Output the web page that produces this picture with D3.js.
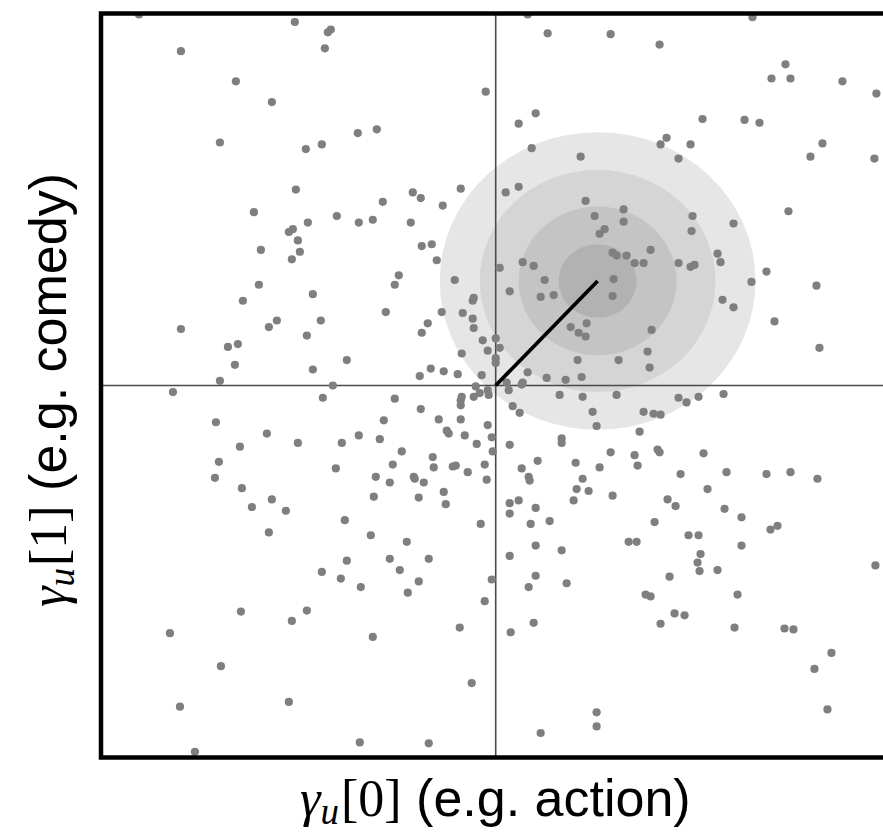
<!DOCTYPE html>
<html>
<head>
<meta charset="utf-8">
<script src="https://cdn.jsdelivr.net/npm/d3@7"></script>
<style>
  body { margin: 0; background: #fff; }
</style>
</head>
<body>
<svg id="svg"></svg>
<script>
// user factor scatter (x = gamma_u[0], y = gamma_u[1]), units
const usersX = [
  -357,-201,-165,-168,-315,-171,-260,-224,-276,-138,-190,-174,-200,-242,-159,-188,-137,-203,-207,-198,-235,-196,
  32,52,115,-10,40,23,-119,36,85,-83,-75,-35,-113,-53,10,23,-85,90,128,99,128,109,104,-74,-64,117,-123,
  257,164,290,276,295,347,381,207,249,264,171,165,195,183,327,315,379,293,197,196,238,155,222,
  -204,-237,-183,-253,-315,-227,-219,-175,-189,-268,-258,-261,-183,-149,-276,-323,-163,-173,-280,-229,-256,-198,-154,-137,-277,-281,-160,-254,-224,
  -59,27,38,4,121,131,-97,-101,-41,49,118,14,45,58,117,-22,-23,-110,-54,-33,-23,-22,-68,-74,75,83,90,91,-13,0,4,-8,-34,0,0,82,123,
  -65,-52,-38,-76,-14,32,51,70,86,27,26,11,-20,13,-8,-16,-22,-7,-34,-35,-35,-101,64,87,121,17,24,97,101,-75,-112,-57,-35,-8,-49,-47,-31,-4,
  -116,-19,14,66,66,-94,-3,-63,115,-103,-62,-43,-40,-11,42,80,104,-120,-106,-82,-81,-72,-28,-9,26,33,34,87,81,93,-122,-77,-52,-50,14,23,78,117,
  139,148,183,195,199,225,256,271,321,227,238,279,156,152,154,324,183,191,203,228,148,158,165,144,139,142,162,164,208,185,231,271,295,322,212,172,
  -244,-210,-151,-227,-149,-174,-155,-135,-255,-189,-204,-326,-275,-316,-207,-136,-301,
  40,14,-15,35,54,-125,-89,-106,-67,-96,-77,-88,-4,-11,40,66,14,40,33,71,-36,-123,38,15,-24,101,101,45,-67,
  180,229,246,159,275,282,133,141,193,203,246,205,202,204,222,174,380,150,155,242,179,189,165,239,289,298,336,319,332
];
const usersY = [
  394,386,378,375,355,358,323,301,258,268,251,256,208,184,180,173,173,166,163,154,144,142,
  394,374,373,312,289,278,272,252,243,205,199,209,195,191,205,211,173,196,187,180,174,166,161,148,150,141,176,
  391,362,341,326,326,323,310,283,282,279,263,256,256,241,257,243,241,185,180,164,172,144,140,
  134,107,97,90,60,62,69,69,53,41,44,22,17,27,5,-7,0,-13,-39,-51,-65,-61,-61,-53,-81,-98,-88,-109,-121,
  133,131,127,125,138,138,117,107,112,112,113,100,94,96,95,93,90,78,78,77,71,61,66,56,62,56,52,66,48,50,40,37,34,29,24,27,27,
  18,15,12,10,11,14,8,6,9,3,1,3,-1,-5,-5,-8,-12,-10,-12,-16,-21,-14,-10,-12,-10,-22,-29,-28,-43,-25,-37,-36,-36,-42,-48,-51,-53,-55,
  -57,-62,-63,-56,-61,-70,-70,-76,-71,-84,-87,-86,-85,-84,-80,-82,-87,-97,-103,-97,-99,-103,-92,-100,-88,-97,-101,-99,-110,-112,-118,-119,-113,-126,-125,-122,-122,-117,
  130,130,130,126,128,131,110,121,106,91,83,68,59,36,19,40,-13,-18,-12,-9,-28,-30,-31,-49,-74,-85,-68,-71,-72,-94,-92,-94,-92,-99,-110,-121,
  -129,-133,-143,-156,-186,-198,-205,-214,-240,-239,-250,-263,-298,-341,-336,-379,-389,
  -130,-136,-147,-147,-144,-159,-166,-184,-184,-196,-208,-220,-206,-229,-170,-175,-181,-202,-214,-210,-257,-267,-252,-262,-316,-347,-362,-369,-380,
  -128,-131,-140,-145,-153,-149,-166,-166,-159,-159,-170,-179,-188,-197,-196,-203,-191,-222,-224,-222,-242,-244,-253,-257,-258,-259,-284,-301,-344
];

// the highlighted user: mean and the radii of the shaded rings
const userMean = [102, 111];
const ringRadii = [158, 118, 79, 39];
const ringFills = ['#e6e6e6', '#d5d5d5', '#c4c4c4', '#b2b2b2'];

const axisLimit = 395;

const width = 883;
const height = 832;
const frame = { left: 101, right: 890.4, top: 13.5, bottom: 757.5 };

const svg = d3.select('#svg')
  .attr('width', width)
  .attr('height', height);

// SCALES
const xScale = d3.scaleLinear()
  .domain([-axisLimit, axisLimit])
  .range([frame.left, frame.right]);

const yScale = d3.scaleLinear()
  .domain([-axisLimit, axisLimit])
  .range([frame.bottom, frame.top]);

svg.append('clipPath')
  .attr('id', 'plot-clip')
  .append('rect')
  .attr('x', frame.left)
  .attr('y', frame.top)
  .attr('width', frame.right - frame.left)
  .attr('height', frame.bottom - frame.top);

const plot = svg.append('g').attr('clip-path', 'url(#plot-clip)');

// RINGS (circles in data space, so ellipses on screen)
plot.selectAll('.ring')
  .data(ringRadii)
  .enter()
  .append('ellipse')
  .attr('class', 'ring')
  .attr('cx', xScale(userMean[0]))
  .attr('cy', yScale(userMean[1]))
  .attr('rx', r => xScale(r) - xScale(0))
  .attr('ry', r => yScale(0) - yScale(r))
  .attr('fill', (r, i) => ringFills[i]);

// ZERO LINES
plot.append('line')
  .attr('x1', xScale(0)).attr('x2', xScale(0))
  .attr('y1', frame.top).attr('y2', frame.bottom)
  .attr('stroke', '#4a4a4a')
  .attr('stroke-width', 1.6);

plot.append('line')
  .attr('x1', frame.left).attr('x2', frame.right)
  .attr('y1', yScale(0)).attr('y2', yScale(0))
  .attr('stroke', '#4a4a4a')
  .attr('stroke-width', 1.6);

// POINTS
plot.selectAll('.user')
  .data(d3.range(usersX.length))
  .enter()
  .append('circle')
  .attr('class', 'user')
  .attr('cx', i => xScale(usersX[i]))
  .attr('cy', i => yScale(usersY[i]))
  .attr('r', 4.1)
  .attr('fill', '#7f7f7f');

// vector to the mean
plot.append('line')
  .attr('x1', xScale(0))
  .attr('y1', yScale(0))
  .attr('x2', xScale(userMean[0]))
  .attr('y2', yScale(userMean[1]))
  .attr('stroke', '#000')
  .attr('stroke-width', 3.8);

// FRAME
svg.append('rect')
  .attr('x', frame.left)
  .attr('y', frame.top)
  .attr('width', frame.right - frame.left)
  .attr('height', frame.bottom - frame.top)
  .attr('fill', 'none')
  .attr('stroke', '#000')
  .attr('stroke-width', 4.5);

// AXIS LABELS
function axisLabel(g, index, genre) {
  const t = g.append('text')
    .attr('font-size', 52)
    .attr('fill', '#000');
  t.append('tspan')
    .attr('font-family', 'Liberation Serif, DejaVu Serif, serif')
    .attr('font-style', 'italic')
    .text('γ');
  t.append('tspan')
    .attr('font-family', 'Liberation Serif, DejaVu Serif, serif')
    .attr('font-style', 'italic')
    .attr('font-size', 37)
    .attr('dy', 8)
    .text('u');
  t.append('tspan')
    .attr('font-family', 'Liberation Serif, DejaVu Serif, serif')
    .attr('dy', -8)
    .attr('dx', 2)
    .text('[' + index + ']');
  t.append('tspan')
    .attr('font-family', 'Liberation Sans, Arial, sans-serif')
    .text(' (e.g. ' + genre + ')');
  return t;
}

axisLabel(svg.append('g').attr('transform', 'translate(300, 816)'), 0, 'action');

axisLabel(svg.append('g').attr('transform', 'translate(66, 607) rotate(-90)'), 1, 'comedy');
</script>
</body>
</html>
